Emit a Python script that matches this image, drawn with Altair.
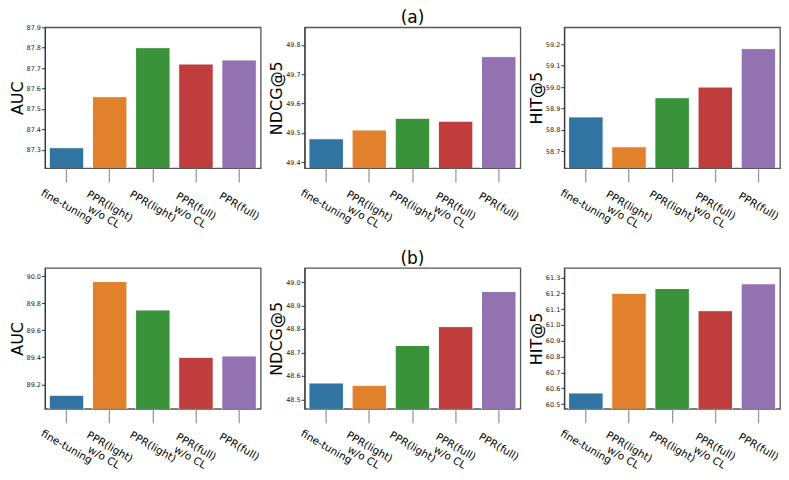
import altair as alt
import pandas as pd

categories = ["fine-tuning", "PPR(light)\nw/o CL", "PPR(light)", "PPR(full)\nw/o CL", "PPR(full)"]
colors = ["#3274a1", "#e1812c", "#3a923a", "#c03d3e", "#9372b2"]

auc_a = [87.31, 87.56, 87.80, 87.72, 87.74]
ndcg_a = [49.48, 49.51, 49.55, 49.54, 49.76]
hit_a = [58.86, 58.72, 58.95, 59.00, 59.18]
auc_b = [89.12, 89.96, 89.75, 89.40, 89.41]
ndcg_b = [48.57, 48.56, 48.73, 48.81, 48.96]
hit_b = [60.57, 61.20, 61.23, 61.09, 61.26]

ticks_auc_a = [87.3, 87.4, 87.5, 87.6, 87.7, 87.8, 87.9]
ticks_ndcg_a = [49.4, 49.5, 49.6, 49.7, 49.8]
ticks_hit_a = [58.7, 58.8, 58.9, 59.0, 59.1, 59.2]
ticks_auc_b = [89.2, 89.4, 89.6, 89.8, 90.0]
ticks_ndcg_b = [48.5, 48.6, 48.7, 48.8, 48.9, 49.0]
ticks_hit_b = [60.5, 60.6, 60.7, 60.8, 60.9, 61.0, 61.1, 61.2, 61.3]

margin = 0.1
W, H = 216, 141


def panel(values, ticks, ytitle, title=None):
    df = pd.DataFrame({"method": categories, "value": values})
    lo = round(min(values) - margin, 4)
    hi = round(max(values) + margin, 4)
    ch = alt.Chart(df).mark_bar(clip=True, stroke="white", strokeWidth=1).encode(
        x=alt.X(
            "method:N",
            sort=categories,
            title=None,
            scale=alt.Scale(paddingInner=0.2, paddingOuter=0.1),
            axis=alt.Axis(
                labelAngle=30,
                labelAlign="center",
                labelBaseline="middle",
                labelPadding=24,
                labelExpr="split(datum.label, '\\n')",
                labelLineHeight=12,
                labelFontSize=10.5,
                labelColor="black",
                labelOverlap=False,
                labelBound=False,
                tickSize=14,
                tickColor="#999999",
                tickWidth=1.3,
                domain=False,
            ),
        ),
        y=alt.Y(
            "value:Q",
            scale=alt.Scale(domain=[lo, hi], zero=False, nice=False),
            axis=alt.Axis(
                values=ticks,
                format=".1f",
                title=ytitle,
                titleFontSize=16,
                titleFontWeight="normal",
                titleColor="black",
                titlePadding=1,
                labelFontSize=6.5,
                labelColor="#222222",
                labelPadding=1,
                tickSize=3.5,
                tickColor="#333333",
                domainColor="#333333",
                grid=False,
            ),
        ),
        color=alt.Color("method:N", scale=alt.Scale(domain=categories, range=colors), legend=None),
    ).properties(width=W, height=H)
    if title:
        ch = ch.properties(
            width=W,
            height=H,
            title=alt.TitleParams(
                title, fontSize=17, fontWeight="normal", anchor="middle", frame="group",
                baseline="alphabetic", offset=-13, color="black",
            ),
        )
    return ch


panels = [
    panel(auc_a, ticks_auc_a, "AUC"),
    panel(ndcg_a, ticks_ndcg_a, "NDCG@5", "(a)"),
    panel(hit_a, ticks_hit_a, "HIT@5"),
    panel(auc_b, ticks_auc_b, "AUC"),
    panel(ndcg_b, ticks_ndcg_b, "NDCG@5", "(b)"),
    panel(hit_b, ticks_hit_b, "HIT@5"),
]

chart = alt.concat(
    *panels, columns=3, spacing={"row": 100, "column": 44}, bounds="flush"
).properties(
    padding={"left": 0, "top": 0, "right": 0, "bottom": 0},
    background="white",
).configure(font="DejaVu Sans").configure_view(
    stroke="#555555", strokeWidth=1.3
)

chart.save("out.html", embed_options={"renderer": "svg", "actions": False})
